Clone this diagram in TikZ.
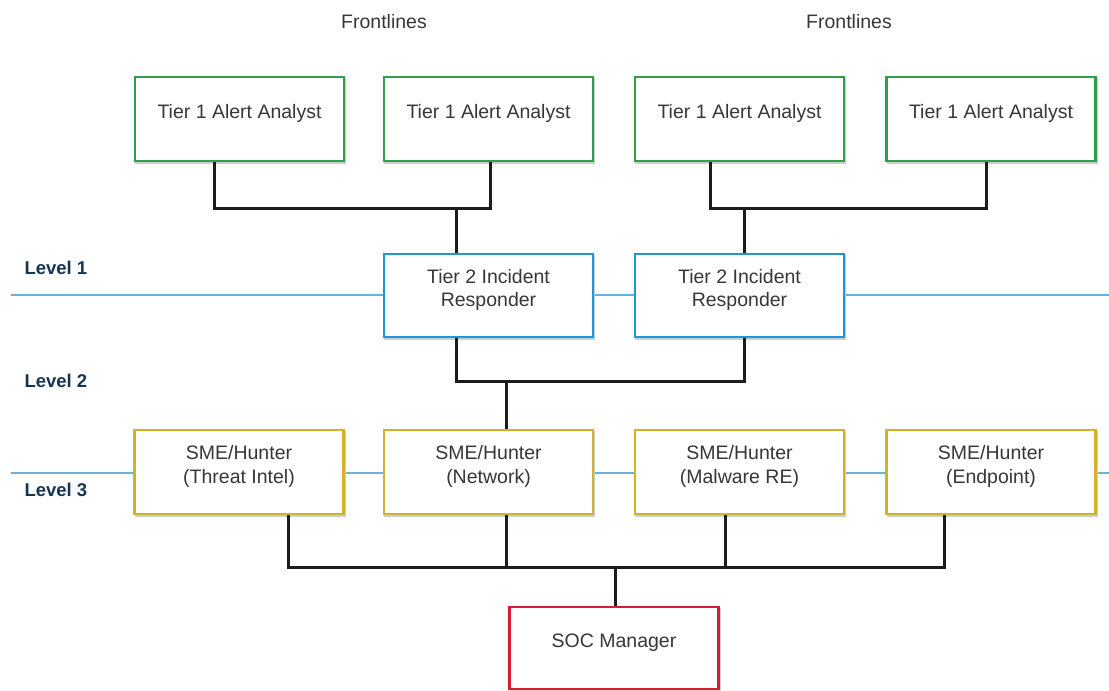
\documentclass[tikz,border=0pt]{standalone}
\usepackage{fontspec}
\setmainfont{Liberation Sans}

\definecolor{tiergreen}{RGB}{46,160,70}
\definecolor{tierblue}{RGB}{30,150,215}
\definecolor{tiergold}{RGB}{212,178,40}
\definecolor{tierred}{RGB}{212,28,52}
\definecolor{lanecol}{RGB}{105,178,222}
\definecolor{levelcol}{RGB}{22,52,86}
\definecolor{txtcol}{RGB}{55,55,55}
\definecolor{wirecol}{RGB}{28,28,28}
\definecolor{shadecol}{RGB}{200,205,215}

\begin{document}
\begin{tikzpicture}[x=1pt,y=-1pt,
  box/.style={draw, line width=2.2pt, fill=white, inner sep=0pt,
    minimum width=209pt, minimum height=84pt,
    preaction={draw=shadecol, line width=2pt, transform canvas={xshift=1pt, yshift=-2pt}}},
  boxtext/.style={font=\fontsize{19.5}{23.5}\selectfont, text=txtcol, align=center, yshift=5.5pt},
  frontbox/.style={box, draw=tiergreen},
  respbox/.style={box, draw=tierblue, minimum height=83pt},
  smebox/.style={box, draw=tiergold},
  mgrbox/.style={box, draw=tierred, minimum height=82pt},
  heading/.style={font=\fontsize{19.5}{23}\selectfont, text=txtcol},
  levellabel/.style={font=\fontsize{18.5}{22}\selectfont\bfseries, text=levelcol, anchor=west},
  lane/.style={draw=lanecol, line width=1.8pt},
  wire/.style={draw=wirecol, line width=3pt, line join=miter}
]
\useasboundingbox (0,0) rectangle (1109,691);

% lane lines behind the boxes
\coordinate (lane1w) at (11,295);
\coordinate (lane1e) at (1109,295);
\coordinate (lane3w) at (11,473);
\coordinate (lane3e) at (1109,473);
\draw[lane] (lane1w) -- (lane1e);
\draw[lane] (lane3w) -- (lane3e);

% headings and level labels
\node[heading] (front1) at (384,22) {Frontlines};
\node[heading] (front2) at (849,22) {Frontlines};
\node[levellabel] (lvl1) at (21,268) {Level 1};
\node[levellabel] (lvl2) at (21,381) {Level 2};
\node[levellabel] (lvl3) at (21,490) {Level 3};

% tier 1
\node[frontbox, label={[boxtext, name=t1aT]center:Tier 1 Alert Analyst}] (t1a) at (239.5,119) {};
\node[frontbox, label={[boxtext, name=t1bT]center:Tier 1 Alert Analyst}] (t1b) at (488.5,119) {};
\node[frontbox, label={[boxtext, name=t1cT]center:Tier 1 Alert Analyst}] (t1c) at (739.5,119) {};
\node[frontbox, label={[boxtext, name=t1dT]center:Tier 1 Alert Analyst}] (t1d) at (991,119) {};

% tier 2
\node[respbox, label={[boxtext, name=t2aT]center:{Tier 2 Incident\\Responder}}] (t2a) at (488.5,295.5) {};
\node[respbox, label={[boxtext, name=t2bT]center:{Tier 2 Incident\\Responder}}] (t2b) at (739.5,295.5) {};

% subject matter experts
\node[smebox, label={[boxtext, name=s1T]center:{SME/Hunter\\(Threat Intel)}}] (s1) at (239,472) {};
\node[smebox, label={[boxtext, name=s2T]center:{SME/Hunter\\(Network)}}] (s2) at (488.5,472) {};
\node[smebox, label={[boxtext, name=s3T]center:{SME/Hunter\\(Malware RE)}}] (s3) at (739.5,472) {};
\node[smebox, label={[boxtext, name=s4T]center:{SME/Hunter\\(Endpoint)}}] (s4) at (991,472) {};

% manager
\node[mgrbox, label={[boxtext, name=socT]center:SOC Manager}] (soc) at (614,648) {};

% connection points on the boxes
\coordinate (t1a-o) at ([xshift=-25.5pt]t1a.south);
\coordinate (t1b-o) at ([xshift=1.5pt]t1b.south);
\coordinate (t1c-o) at ([xshift=-29.5pt]t1c.south);
\coordinate (t1d-o) at ([xshift=-5pt]t1d.south);
\coordinate (t2a-i) at ([xshift=-32.5pt]t2a.north);
\coordinate (t2b-i) at ([xshift=4.5pt]t2b.north);
\coordinate (t2a-o) at ([xshift=-32.5pt]t2a.south);
\coordinate (t2b-o) at ([xshift=4.5pt]t2b.south);
\coordinate (s2-i) at ([xshift=17.5pt]s2.north);
\coordinate (s1-o) at ([xshift=49.5pt]s1.south);
\coordinate (s2-o) at ([xshift=17.5pt]s2.south);
\coordinate (s3-o) at ([xshift=-14.5pt]s3.south);
\coordinate (s4-o) at ([xshift=-47pt]s4.south);
\coordinate (soc-i) at ([xshift=1pt]soc.north);

% bus heights
\coordinate (bus1) at (0,208);
\coordinate (bus2) at (0,381);
\coordinate (bus3) at (0,567);

% tier 1 to tier 2
\draw[wire] (t1a-o) -- (t1a-o |- bus1) -- (t1b-o |- bus1) -- (t1b-o);
\draw[wire] (t2a-i |- bus1) -- (t2a-i);
\draw[wire] (t1c-o) -- (t1c-o |- bus1) -- (t1d-o |- bus1) -- (t1d-o);
\draw[wire] (t2b-i |- bus1) -- (t2b-i);

% tier 2 to experts
\draw[wire] (t2a-o) -- (t2a-o |- bus2) -- (t2b-o |- bus2) -- (t2b-o);
\draw[wire] (s2-i |- bus2) -- (s2-i);

% experts to manager
\draw[wire] (s1-o) -- (s1-o |- bus3) -- (s4-o |- bus3) -- (s4-o);
\draw[wire] (s2-o) -- (s2-o |- bus3);
\draw[wire] (s3-o) -- (s3-o |- bus3);
\draw[wire] (soc-i |- bus3) -- (soc-i);
\end{tikzpicture}
\end{document}
